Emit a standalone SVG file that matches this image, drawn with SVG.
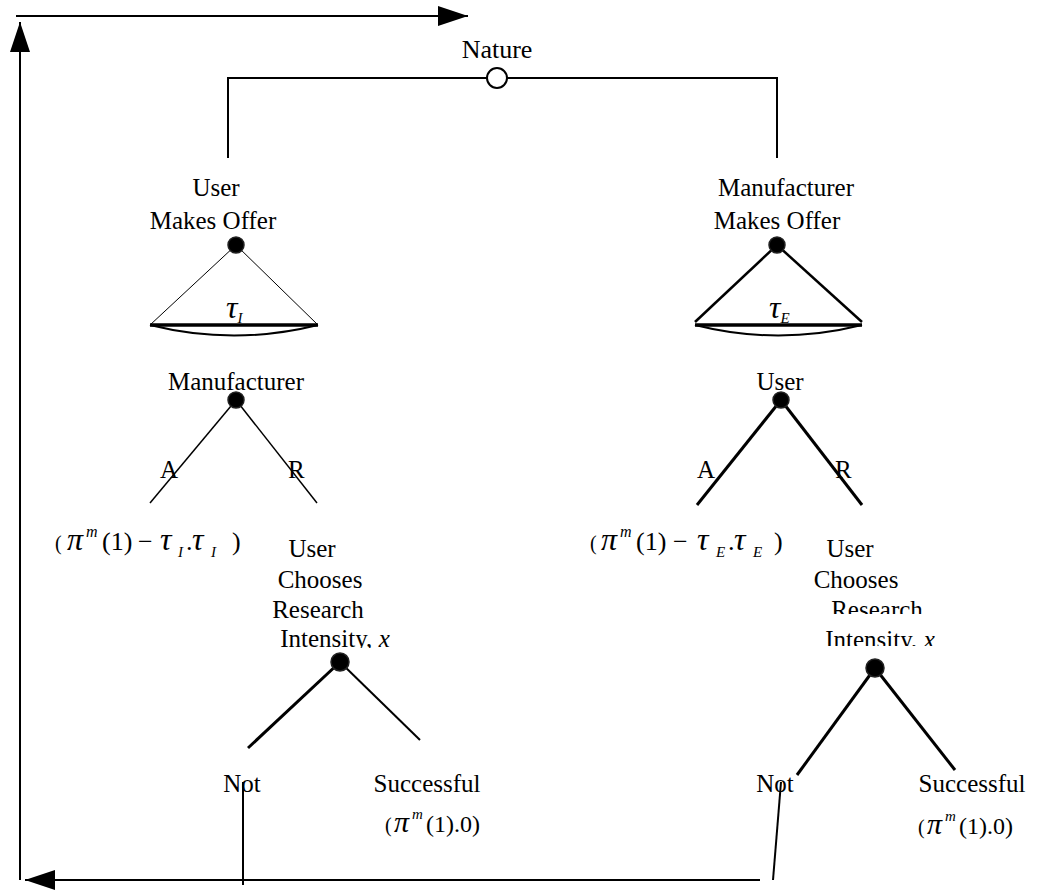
<svg xmlns="http://www.w3.org/2000/svg" width="1047" height="891" viewBox="0 0 1047 891">
<defs>
<style>
text{font-family:"Liberation Serif","Times New Roman",serif;font-size:25px;fill:#000}
.c{text-anchor:middle}
.it{font-style:italic}
.tau{font-size:32px}
.big{font-size:26px}
.ln{stroke:#000;fill:none;stroke-linecap:butt}
.node{fill:#000;stroke:#222;stroke-width:1.5}
</style>
<marker id="ah" markerWidth="30" markerHeight="20" refX="30" refY="10" orient="auto" markerUnits="userSpaceOnUse">
<path d="M0,0 L30,10 L0,20 Z" fill="#000"/>
</marker>
<clipPath id="clipR"><rect x="800" y="560" width="200" height="54"/></clipPath>
<clipPath id="clipI"><rect x="800" y="626" width="200" height="20"/></clipPath>
<clipPath id="clipIL"><rect x="260" y="620" width="200" height="28"/></clipPath>
</defs>

<g id="connectors">
<polyline class="ln" points="20,880 20,22" stroke-width="2" marker-end="url(#ah)"/>
<polyline class="ln" points="16,16 468,16" stroke-width="2" marker-end="url(#ah)"/>
<polyline class="ln" points="760,880 25,880" stroke-width="2" marker-end="url(#ah)"/>
<polyline class="ln" points="228,158 228,78 777,78 777,158" stroke-width="2"/>
<line class="ln" x1="243" y1="782" x2="243" y2="885" stroke-width="2"/>
<line class="ln" x1="781" y1="782" x2="773" y2="880" stroke-width="2"/>
<line class="ln" x1="236" y1="245" x2="150" y2="325" stroke-width="1"/>
<line class="ln" x1="236" y1="245" x2="318" y2="325" stroke-width="1"/>
<line class="ln" x1="777" y1="245" x2="695" y2="322" stroke-width="2.5"/>
<line class="ln" x1="777" y1="245" x2="862" y2="322" stroke-width="2.5"/>
<line class="ln" x1="236" y1="400" x2="150" y2="503" stroke-width="1.5"/>
<line class="ln" x1="236" y1="400" x2="317" y2="503" stroke-width="1.5"/>
<line class="ln" x1="781" y1="400" x2="697" y2="505" stroke-width="3"/>
<line class="ln" x1="781" y1="400" x2="862" y2="505" stroke-width="3"/>
<line class="ln" x1="340" y1="662" x2="248" y2="748" stroke-width="3"/>
<line class="ln" x1="340" y1="662" x2="420" y2="740" stroke-width="2"/>
<line class="ln" x1="875" y1="668" x2="797" y2="775" stroke-width="3"/>
<line class="ln" x1="875" y1="668" x2="955" y2="770" stroke-width="3"/>
</g>

<g id="nature">
<text class="c big" x="497" y="58">Nature</text>
<circle cx="497" cy="78" r="10" fill="#fff" stroke="#000" stroke-width="2"/>
</g>

<g id="user-offer">
<text class="c" x="216" y="196">User</text>
<text class="c" x="213" y="229">Makes Offer</text>
<circle class="node" cx="236" cy="245" r="8"/>
<line class="ln" x1="150" y1="325" x2="318" y2="325" stroke-width="3.5"/>
<path class="ln" d="M150,325 Q234,346 318,325" stroke-width="2"/>
<text x="226" y="318" class="it tau">τ<tspan font-size="15" dy="5">I</tspan></text>
</g>

<g id="manufacturer-offer">
<text class="c" x="786" y="196">Manufacturer</text>
<text class="c" x="777" y="229">Makes Offer</text>
<circle class="node" cx="777" cy="245" r="8"/>
<line class="ln" x1="695" y1="325" x2="862" y2="325" stroke-width="3.5"/>
<path class="ln" d="M695,325 Q778,346 862,325" stroke-width="2"/>
<text x="769" y="318" class="it tau">τ<tspan font-size="15" dy="5">E</tspan></text>
</g>

<g id="manufacturer">
<text class="c" x="236" y="390">Manufacturer</text>
<circle class="node" cx="236" cy="400" r="8"/>
<text x="160" y="478">A</text>
<text x="288" y="478">R</text>
</g>

<g id="user">
<text class="c" x="780" y="390">User</text>
<circle class="node" cx="781" cy="400" r="8"/>
<text x="697" y="478">A</text>
<text x="835" y="478">R</text>
</g>

<g id="payoff-left">
<text y="550"><tspan x="55" font-size="20">(</tspan><tspan x="67" class="it" font-size="32">π</tspan><tspan x="86" dy="-13" class="it" font-size="16">m</tspan><tspan x="102" dy="13" font-size="26">(1)</tspan><tspan x="138" font-size="26">−</tspan><tspan x="160" class="it" font-size="32">τ</tspan><tspan x="178" dy="7" class="it" font-size="15">I</tspan><tspan x="186" dy="-7" font-size="26">.</tspan><tspan x="192" class="it" font-size="32">τ</tspan><tspan x="211" dy="7" class="it" font-size="15">I</tspan><tspan x="232" dy="-7" font-size="26">)</tspan></text>
</g>

<g id="payoff-right">
<text y="550"><tspan x="590" font-size="20">(</tspan><tspan x="601" class="it" font-size="32">π</tspan><tspan x="620" dy="-13" class="it" font-size="16">m</tspan><tspan x="636" dy="13" font-size="26">(1)</tspan><tspan x="673" font-size="26">−</tspan><tspan x="697" class="it" font-size="32">τ</tspan><tspan x="716" dy="7" class="it" font-size="15">E</tspan><tspan x="728" dy="-7" font-size="26">.</tspan><tspan x="734" class="it" font-size="32">τ</tspan><tspan x="753" dy="7" class="it" font-size="15">E</tspan><tspan x="774" dy="-7" font-size="26">)</tspan></text>
</g>

<g id="user-research-left">
<text class="c" x="312" y="557">User</text>
<text class="c" x="320" y="588">Chooses</text>
<text class="c" x="318" y="618">Research</text>
<text class="c" x="335" y="647" clip-path="url(#clipIL)">Intensity, <tspan class="it">x</tspan></text>
<circle class="node" cx="340" cy="662" r="9"/>
<text class="c" x="242" y="792">Not</text>
<text class="c" x="427" y="792">Successful</text>
<text y="832"><tspan x="385" font-size="20">(</tspan><tspan x="394" class="it" font-size="30">π</tspan><tspan x="412" dy="-13" class="it" font-size="15">m</tspan><tspan x="426" dy="13" font-size="24">(1).0)</tspan></text>
</g>

<g id="user-research-right">
<text class="c" x="850" y="557">User</text>
<text class="c" x="856" y="588">Chooses</text>
<text class="c" x="877" y="618" clip-path="url(#clipR)">Research</text>
<text class="c" x="880" y="648" clip-path="url(#clipI)">Intensity, <tspan class="it">x</tspan></text>
<circle class="node" cx="875" cy="668" r="9"/>
<text class="c" x="775" y="792">Not</text>
<text class="c" x="972" y="792">Successful</text>
<text y="834"><tspan x="918" font-size="20">(</tspan><tspan x="927" class="it" font-size="30">π</tspan><tspan x="945" dy="-13" class="it" font-size="15">m</tspan><tspan x="959" dy="13" font-size="24">(1).0)</tspan></text>
</g>
</svg>
